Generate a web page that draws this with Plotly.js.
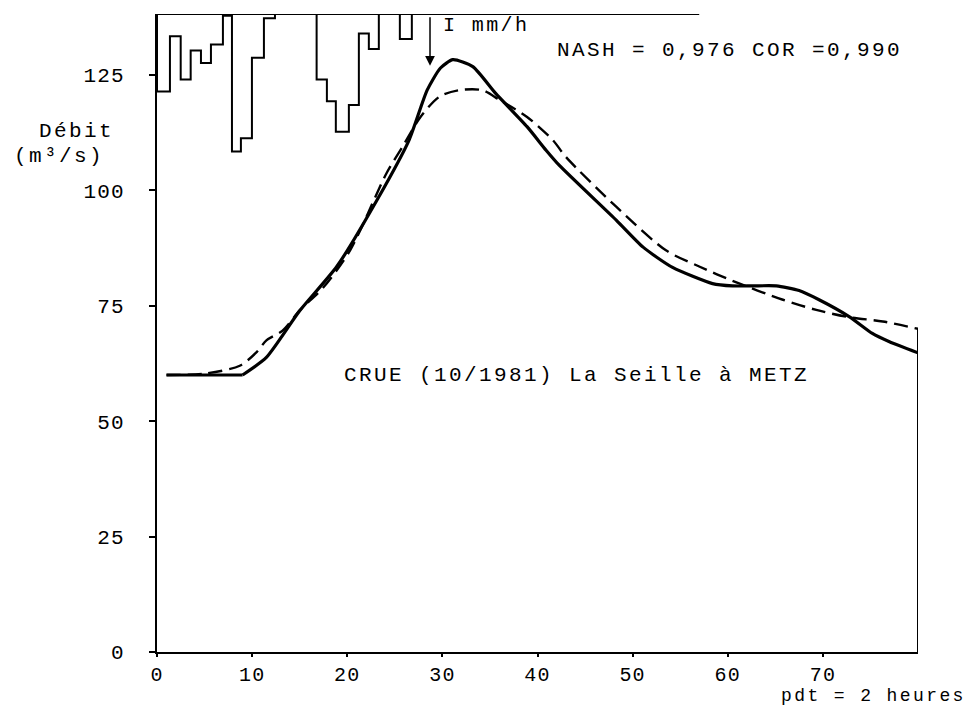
<!DOCTYPE html>
<html>
<head>
<meta charset="utf-8">
<script src="https://cdn.plot.ly/plotly-3.0.1.min.js"></script>
<style>
  html, body { margin: 0; padding: 0; background: #fff; }
  #chart { width: 971px; height: 707px; }
  .annotation-text { letter-spacing: 2.4px; }
  .xtick text, .ytick text { letter-spacing: 1.2px; }
</style>
</head>
<body>
<div id="chart"></div>
<script>
// ---- Data ----
// Time axis (pas de temps, pdt = 2 heures)
const xTicks = [0, 10, 20, 30, 40, 50, 60, 70];
const yTicks = [0, 25, 50, 75, 100, 125];

// Observed hydrograph (solid)
const obsX = [1, 9, 11.5, 15, 18.9, 23.1, 26.5, 28.4, 29.8, 31.1, 33.2, 35.6, 38.9, 40.9, 42.3, 48.3, 51.1, 54.2, 58.4, 60.5, 62.6, 65.1, 67.5, 69.6, 72.8, 75.2, 77, 80];
const obsY = [60, 60, 63.8, 73.9, 83.5, 97.8, 110.9, 121.7, 126.5, 128.3, 126.8, 121, 113.8, 108.7, 105.4, 93.5, 87.7, 83.3, 79.8, 79.3, 79.3, 79.3, 78.3, 76.3, 72.6, 69, 67.2, 64.8];
const obsKink = 1; // index where the flat start ends and the rise begins

// Simulated hydrograph (dashed)
const simX = [1, 5, 8.7, 10.5, 11.5, 13.2, 15, 17.5, 20.3, 24.1, 25.8, 27.7, 29.7, 31.8, 34.2, 36, 38.9, 41.6, 43, 48.3, 53.5, 57, 60.5, 65.8, 69.3, 72.8, 76.3, 80];
const simY = [60, 60.3, 62, 65, 67.5, 69.6, 74, 79, 87, 103.6, 109.4, 115.9, 120.3, 121.7, 121.7, 119.6, 115.9, 110.9, 107.2, 96.4, 87, 83.5, 80.4, 76.3, 74.1, 72.5, 71.6, 70];

// Hyetograph (I mm/h), hanging from the top; depth in discharge-axis units
const rainEdges = [0, 1.36, 2.49, 3.54, 4.62, 5.67, 6.93, 7.88, 8.82, 9.98, 11.24, 12.4, 16.78, 17.86, 18.8, 20.17, 21.22, 22.27, 23.32, 25.53, 26.79];
const rainDepth = [16.8, 4.8, 14.2, 7.9, 10.6, 6.6, 0.4, 29.8, 26.9, 9.5, 0.9, 0, 14.2, 18.9, 25.5, 19.7, 4.2, 7.6, 0, 5.4];
const rainLineX = [0, 57];   // extent of the hyetograph base line

const yTop = 138.2;
const xMax = 80;

// ---- Build traces ----
const rainX = [0].concat(rainEdges);
const rainY = [0].concat(rainDepth).concat([0]);

const FONT = 'Liberation Mono, Courier New, monospace';
const SOLID = { color: '#000', width: 3.2 };

const traces = [
  {
    x: rainX, y: rainY, yaxis: 'y2', type: 'scatter', mode: 'lines',
    line: { shape: 'hv', color: '#000', width: 2 }, cliponaxis: false,
    hoverinfo: 'skip', showlegend: false
  },
  {
    x: rainLineX, y: [0, 0], yaxis: 'y2', type: 'scatter', mode: 'lines',
    line: { color: '#000', width: 2 }, cliponaxis: false,
    hoverinfo: 'skip', showlegend: false
  },
  {
    x: simX, y: simY, type: 'scatter', mode: 'lines',
    line: { color: '#000', width: 2.4, dash: '14px,7px', shape: 'spline', smoothing: 0.8 },
    cliponaxis: false, showlegend: false
  },
  {
    x: obsX.slice(0, obsKink + 1), y: obsY.slice(0, obsKink + 1), type: 'scatter', mode: 'lines',
    line: Object.assign({ shape: 'linear' }, SOLID),
    cliponaxis: false, showlegend: false
  },
  {
    x: obsX.slice(obsKink), y: obsY.slice(obsKink), type: 'scatter', mode: 'lines',
    line: Object.assign({ shape: 'spline', smoothing: 0.6 }, SOLID),
    cliponaxis: false, showlegend: false
  }
];

const layout = {
  width: 971, height: 707,
  margin: { l: 157, r: 53, t: 14, b: 55 },
  paper_bgcolor: '#fff', plot_bgcolor: '#fff',
  font: { family: FONT, size: 21, color: '#000' },
  showlegend: false,
  xaxis: {
    range: [0, xMax], tickvals: xTicks, ticktext: xTicks.map(String),
    showgrid: false, zeroline: false, showline: true, linecolor: '#000', linewidth: 2,
    ticks: 'outside', ticklen: 3, tickwidth: 2, tickcolor: '#000',
    ticklabelstandoff: 0,
    tickfont: { family: FONT, size: 20, color: '#000' }
  },
  yaxis: {
    range: [0, yTop], tickvals: yTicks, ticktext: yTicks.map(String),
    showgrid: false, zeroline: false, showline: true, linecolor: '#000', linewidth: 2,
    ticks: 'outside', ticklen: 6, tickwidth: 2, tickcolor: '#000',
    ticklabelstandoff: 20,
    tickfont: { family: FONT, size: 21, color: '#000' }
  },
  yaxis2: {
    overlaying: 'y', range: [yTop, 0], visible: false, showgrid: false, zeroline: false
  },
  shapes: [
    { type: 'line', xref: 'x', yref: 'y', x0: xMax, x1: xMax, y0: 0, y1: simY[simY.length - 1],
      line: { color: '#000', width: 2 } }
  ],
  annotations: [
    { x: 28.7, y: 127, xref: 'x', yref: 'y', text: '', showarrow: true,
      ax: 0, ay: -50, arrowhead: 2, arrowsize: 1.3, arrowwidth: 1.5, arrowcolor: '#000' },
    { x: 29.9, y: 135.8, xref: 'x', yref: 'y', text: 'I mm/h', showarrow: false,
      xanchor: 'left', yanchor: 'middle', font: { family: FONT, size: 20, color: '#000' } },
    { x: 41.8, y: 130.4, xref: 'x', yref: 'y', text: 'NASH = 0,976 COR =0,990', showarrow: false,
      xanchor: 'left', yanchor: 'middle', font: { family: FONT, size: 21, color: '#000' } },
    { x: 19.5, y: 60, xref: 'x', yref: 'y', text: 'CRUE (10/1981) La Seille à METZ', showarrow: false,
      xanchor: 'left', yanchor: 'middle', font: { family: FONT, size: 21, color: '#000' } },
    { x: -0.1576, y: 112.7, xref: 'paper', yref: 'y', text: 'Débit', showarrow: false,
      xanchor: 'left', yanchor: 'middle', font: { family: FONT, size: 21, color: '#000' } },
    { x: -0.1905, y: 107.3, xref: 'paper', yref: 'y', text: '(m³/s)', showarrow: false,
      xanchor: 'left', yanchor: 'middle', font: { family: FONT, size: 21, color: '#000' } },
    { x: 1.065, y: -0.0862, xref: 'paper', yref: 'paper', text: 'pdt = 2 heures', showarrow: false,
      xanchor: 'right', yanchor: 'bottom', borderpad: 0, font: { family: FONT, size: 18, color: '#000' } }
  ]
};

Plotly.newPlot('chart', traces, layout, { staticPlot: true, displayModeBar: false });
</script>
</body>
</html>
